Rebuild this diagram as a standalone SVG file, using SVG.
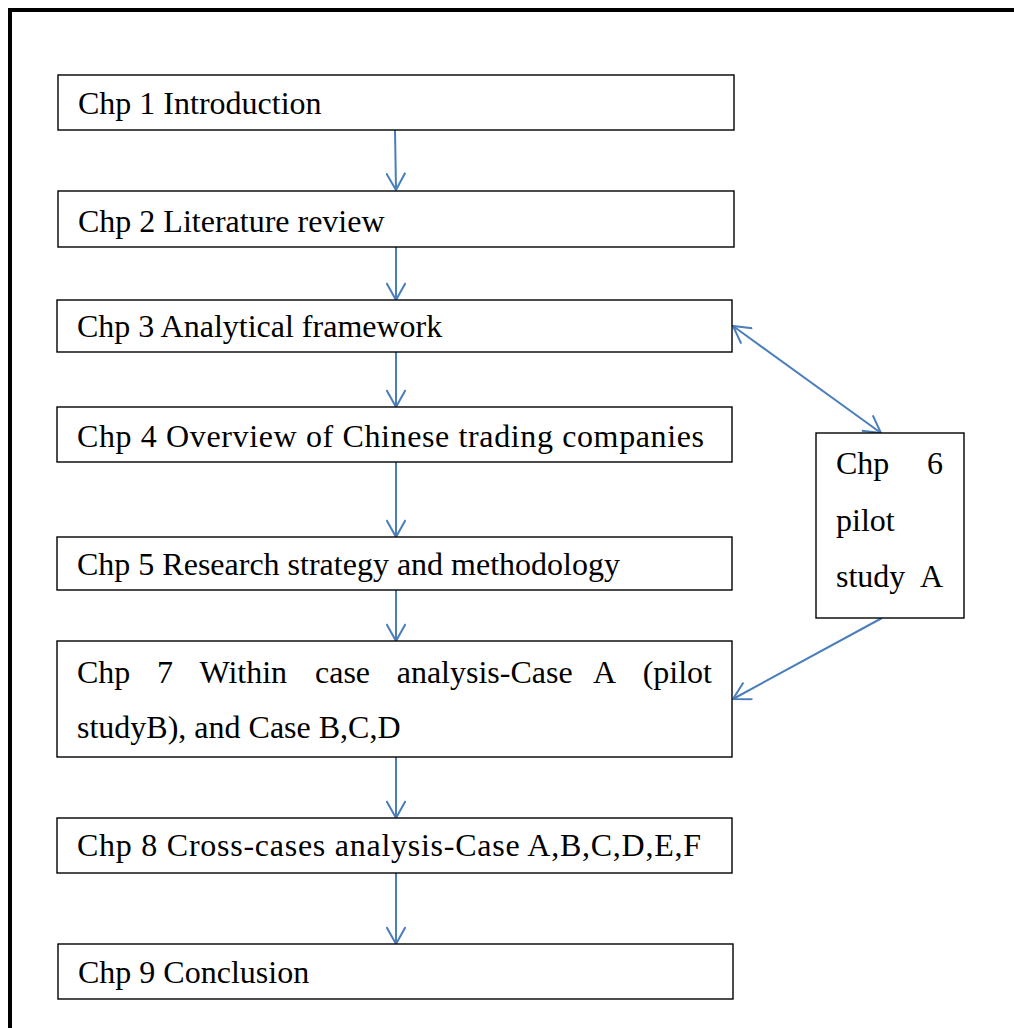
<svg xmlns="http://www.w3.org/2000/svg" width="1014" height="1028" viewBox="0 0 1014 1028">
  <defs>
    <style>
      .box { fill: #ffffff; stroke: #000000; stroke-width: 1.4; }
      .lbl { font-family: "Liberation Serif", "Times New Roman", serif; font-size: 32px; fill: #000000; }
      .end { text-anchor: end; }
      .link { fill: none; stroke: #4a7ebb; stroke-width: 2; }
    </style>
    <marker id="arrow" viewBox="0 0 20 20" refX="19" refY="10" markerWidth="20" markerHeight="20" markerUnits="userSpaceOnUse" orient="auto-start-reverse">
      <path d="M2,0.5 L19,10 L2,19.5" fill="none" stroke="#4a7ebb" stroke-width="2"/>
    </marker>
  </defs>

  <rect width="1014" height="1028" fill="#ffffff"/>
  <!-- outer frame (right and bottom edges run off the page) -->
  <rect x="10" y="10" width="1020" height="1040" fill="none" stroke="#000000" stroke-width="4"/>

  <g id="connectors">
    <line class="link" x1="395" y1="130" x2="396" y2="190" marker-end="url(#arrow)"/>
    <line class="link" x1="396" y1="247" x2="396" y2="300" marker-end="url(#arrow)"/>
    <line class="link" x1="396" y1="352" x2="396" y2="407" marker-end="url(#arrow)"/>
    <line class="link" x1="396" y1="462" x2="396" y2="537" marker-end="url(#arrow)"/>
    <line class="link" x1="396" y1="590" x2="396" y2="641" marker-end="url(#arrow)"/>
    <line class="link" x1="396" y1="757" x2="396" y2="818" marker-end="url(#arrow)"/>
    <line class="link" x1="396" y1="873" x2="396" y2="944" marker-end="url(#arrow)"/>
    <line class="link" x1="733" y1="326" x2="881" y2="433" marker-start="url(#arrow)" marker-end="url(#arrow)"/>
    <line class="link" x1="882" y1="618" x2="733" y2="699" marker-end="url(#arrow)"/>
  </g>

  <g id="chp1">
    <rect class="box" x="58" y="75" width="676" height="55"/>
    <text class="lbl" x="78" y="114">Chp 1 Introduction</text>
  </g>
  <g id="chp2">
    <rect class="box" x="58" y="191" width="676" height="56"/>
    <text class="lbl" x="78" y="232">Chp 2 Literature review</text>
  </g>
  <g id="chp3">
    <rect class="box" x="57" y="300" width="675" height="52"/>
    <text class="lbl" x="77" y="337">Chp 3 Analytical framework</text>
  </g>
  <g id="chp4">
    <rect class="box" x="57" y="407" width="675" height="55"/>
    <text class="lbl" x="77" y="447" textLength="627" lengthAdjust="spacing">Chp 4 Overview of Chinese trading companies</text>
  </g>
  <g id="chp5">
    <rect class="box" x="57" y="537" width="675" height="53"/>
    <text class="lbl" x="77" y="575">Chp 5 Research strategy and methodology</text>
  </g>
  <g id="chp6">
    <rect class="box" x="816" y="433" width="148" height="185"/>
    <text class="lbl" x="836" y="474">Chp</text>
    <text class="lbl end" x="943" y="474">6</text>
    <text class="lbl" x="836" y="531">pilot</text>
    <text class="lbl" x="836" y="587">study</text>
    <text class="lbl end" x="943" y="587">A</text>
  </g>
  <g id="chp7">
    <rect class="box" x="57" y="641" width="675" height="116"/>
    <text class="lbl" y="683"><tspan x="77">Chp</tspan><tspan x="157">7</tspan><tspan x="199.5">Within</tspan><tspan x="315">case</tspan><tspan x="396.7">analysis-Case</tspan><tspan x="593">A</tspan></text>
    <text class="lbl end" x="712" y="683">(pilot</text>
    <text class="lbl" x="77" y="738">studyB), and Case B,C,D</text>
  </g>
  <g id="chp8">
    <rect class="box" x="57" y="818" width="675" height="55"/>
    <text class="lbl" x="77" y="856" textLength="624" lengthAdjust="spacing">Chp 8 Cross-cases analysis-Case A,B,C,D,E,F</text>
  </g>
  <g id="chp9">
    <rect class="box" x="58" y="944" width="675" height="55"/>
    <text class="lbl" x="78" y="983">Chp 9 Conclusion</text>
  </g>
</svg>
